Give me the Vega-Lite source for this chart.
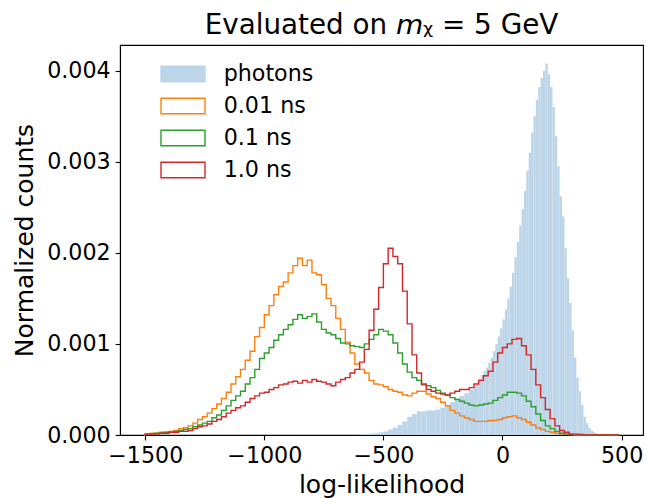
{
  "$schema": "https://vega.github.io/schema/vega-lite/v6.json",
  "autosize": "none",
  "width": 523,
  "height": 390,
  "padding": {"left": 120, "top": 45, "right": 3, "bottom": 63},
  "background": "white",
  "title": {
    "text": "Evaluated on 𝘮ᵪ = 5 GeV",
    "font": "DejaVu Sans",
    "fontSize": 27.8,
    "fontWeight": "normal",
    "color": "black",
    "anchor": "middle",
    "frame": "group",
    "baseline": "alphabetic",
    "offset": -17
  },
  "config": {
    "view": {"stroke": "black", "strokeWidth": 1.1},
    "axis": {
      "grid": false,
      "domainColor": "black",
      "domainWidth": 1.1,
      "tickColor": "black",
      "tickWidth": 1.1,
      "tickSize": 4.9,
      "labelFont": "DejaVu Sans",
      "labelFontSize": 22.2,
      "labelColor": "black",
      "labelPadding": 4.9,
      "titleFont": "DejaVu Sans",
      "titleFontSize": 25,
      "titleFontWeight": "normal",
      "titleColor": "black"
    },
    "legend": {
      "orient": "none",
      "padding": 0,
      "rowPadding": 0,
      "clipHeight": 32,
      "symbolType": "M-1,-0.35L1,-0.35L1,0.35L-1,0.35Z",
      "symbolSize": 1936,
      "symbolStrokeWidth": 1.4,
      "labelFont": "DejaVu Sans",
      "labelFontSize": 22.2,
      "labelColor": "black",
      "labelOffset": 17.7
    }
  },
  "datasets": {
    "photons": [
      {"lo": -620, "hi": -600, "y": 0.000005},
      {"lo": -600, "hi": -580, "y": 0.00001},
      {"lo": -580, "hi": -560, "y": 0.00001},
      {"lo": -560, "hi": -540, "y": 0.000015},
      {"lo": -540, "hi": -520, "y": 0.00002},
      {"lo": -520, "hi": -500, "y": 0.00003},
      {"lo": -500, "hi": -480, "y": 0.00004},
      {"lo": -480, "hi": -460, "y": 0.00006},
      {"lo": -460, "hi": -440, "y": 0.00008},
      {"lo": -440, "hi": -420, "y": 0.00011},
      {"lo": -420, "hi": -400, "y": 0.00015},
      {"lo": -400, "hi": -380, "y": 0.0002},
      {"lo": -380, "hi": -360, "y": 0.00023},
      {"lo": -360, "hi": -340, "y": 0.00026},
      {"lo": -340, "hi": -320, "y": 0.00026},
      {"lo": -320, "hi": -300, "y": 0.00027},
      {"lo": -300, "hi": -280, "y": 0.00027},
      {"lo": -280, "hi": -260, "y": 0.00028},
      {"lo": -260, "hi": -240, "y": 0.0003},
      {"lo": -240, "hi": -220, "y": 0.00033},
      {"lo": -220, "hi": -200, "y": 0.00036},
      {"lo": -200, "hi": -180, "y": 0.0004},
      {"lo": -180, "hi": -160, "y": 0.00043},
      {"lo": -160, "hi": -140, "y": 0.00046},
      {"lo": -140, "hi": -120, "y": 0.0005},
      {"lo": -120, "hi": -100, "y": 0.00055},
      {"lo": -100, "hi": -90, "y": 0.00062},
      {"lo": -90, "hi": -80, "y": 0.00066},
      {"lo": -80, "hi": -70, "y": 0.0007},
      {"lo": -70, "hi": -60, "y": 0.00074},
      {"lo": -60, "hi": -50, "y": 0.00079},
      {"lo": -50, "hi": -40, "y": 0.00085},
      {"lo": -40, "hi": -30, "y": 0.00092},
      {"lo": -30, "hi": -20, "y": 0.001},
      {"lo": -20, "hi": -10, "y": 0.00108},
      {"lo": -10, "hi": 0, "y": 0.00117},
      {"lo": 0, "hi": 10, "y": 0.00127},
      {"lo": 10, "hi": 20, "y": 0.00138},
      {"lo": 20, "hi": 30, "y": 0.0015},
      {"lo": 30, "hi": 40, "y": 0.00163},
      {"lo": 40, "hi": 50, "y": 0.00178},
      {"lo": 50, "hi": 60, "y": 0.00195},
      {"lo": 60, "hi": 70, "y": 0.00212},
      {"lo": 70, "hi": 80, "y": 0.0023},
      {"lo": 80, "hi": 90, "y": 0.00248},
      {"lo": 90, "hi": 100, "y": 0.00268},
      {"lo": 100, "hi": 110, "y": 0.0029},
      {"lo": 110, "hi": 120, "y": 0.0031},
      {"lo": 120, "hi": 130, "y": 0.00332},
      {"lo": 130, "hi": 140, "y": 0.0035},
      {"lo": 140, "hi": 150, "y": 0.00368},
      {"lo": 150, "hi": 160, "y": 0.00382},
      {"lo": 160, "hi": 170, "y": 0.00392},
      {"lo": 170, "hi": 180, "y": 0.004},
      {"lo": 180, "hi": 190, "y": 0.00408},
      {"lo": 190, "hi": 200, "y": 0.00396},
      {"lo": 200, "hi": 210, "y": 0.00382},
      {"lo": 210, "hi": 220, "y": 0.0036},
      {"lo": 220, "hi": 230, "y": 0.00328},
      {"lo": 230, "hi": 240, "y": 0.00295},
      {"lo": 240, "hi": 250, "y": 0.00262},
      {"lo": 250, "hi": 260, "y": 0.0024},
      {"lo": 260, "hi": 270, "y": 0.00205},
      {"lo": 270, "hi": 280, "y": 0.00172},
      {"lo": 280, "hi": 290, "y": 0.00145},
      {"lo": 290, "hi": 300, "y": 0.00115},
      {"lo": 300, "hi": 310, "y": 0.00085},
      {"lo": 310, "hi": 320, "y": 0.00063},
      {"lo": 320, "hi": 330, "y": 0.00048},
      {"lo": 330, "hi": 340, "y": 0.00033},
      {"lo": 340, "hi": 350, "y": 0.0002},
      {"lo": 350, "hi": 360, "y": 0.00013},
      {"lo": 360, "hi": 370, "y": 0.00008},
      {"lo": 370, "hi": 380, "y": 0.00005},
      {"lo": 380, "hi": 390, "y": 0.00003},
      {"lo": 390, "hi": 400, "y": 0.00002},
      {"lo": 400, "hi": 410, "y": 0.00001}
    ],
    "lines": [
      {"series": "0.01 ns", "x": -1506, "y": 0},
      {"series": "0.01 ns", "x": -1500, "y": 0.00001},
      {"series": "0.01 ns", "x": -1480, "y": 0.00002},
      {"series": "0.01 ns", "x": -1460, "y": 0.00002},
      {"series": "0.01 ns", "x": -1440, "y": 0.00003},
      {"series": "0.01 ns", "x": -1420, "y": 0.00003},
      {"series": "0.01 ns", "x": -1400, "y": 0.00004},
      {"series": "0.01 ns", "x": -1380, "y": 0.00005},
      {"series": "0.01 ns", "x": -1360, "y": 0.00007},
      {"series": "0.01 ns", "x": -1340, "y": 0.00008},
      {"series": "0.01 ns", "x": -1320, "y": 0.0001},
      {"series": "0.01 ns", "x": -1300, "y": 0.00013},
      {"series": "0.01 ns", "x": -1280, "y": 0.00017},
      {"series": "0.01 ns", "x": -1260, "y": 0.0002},
      {"series": "0.01 ns", "x": -1240, "y": 0.00024},
      {"series": "0.01 ns", "x": -1220, "y": 0.00029},
      {"series": "0.01 ns", "x": -1200, "y": 0.00034},
      {"series": "0.01 ns", "x": -1180, "y": 0.0004},
      {"series": "0.01 ns", "x": -1160, "y": 0.00047},
      {"series": "0.01 ns", "x": -1140, "y": 0.00056},
      {"series": "0.01 ns", "x": -1120, "y": 0.00064},
      {"series": "0.01 ns", "x": -1100, "y": 0.00072},
      {"series": "0.01 ns", "x": -1080, "y": 0.00082},
      {"series": "0.01 ns", "x": -1060, "y": 0.00092},
      {"series": "0.01 ns", "x": -1040, "y": 0.00108},
      {"series": "0.01 ns", "x": -1020, "y": 0.00118},
      {"series": "0.01 ns", "x": -1000, "y": 0.00132},
      {"series": "0.01 ns", "x": -980, "y": 0.00142},
      {"series": "0.01 ns", "x": -960, "y": 0.00154},
      {"series": "0.01 ns", "x": -940, "y": 0.00163},
      {"series": "0.01 ns", "x": -920, "y": 0.00168},
      {"series": "0.01 ns", "x": -900, "y": 0.00178},
      {"series": "0.01 ns", "x": -880, "y": 0.00186},
      {"series": "0.01 ns", "x": -860, "y": 0.00194},
      {"series": "0.01 ns", "x": -840, "y": 0.00186},
      {"series": "0.01 ns", "x": -820, "y": 0.00192},
      {"series": "0.01 ns", "x": -800, "y": 0.00178},
      {"series": "0.01 ns", "x": -780, "y": 0.00176},
      {"series": "0.01 ns", "x": -760, "y": 0.00165},
      {"series": "0.01 ns", "x": -740, "y": 0.0015},
      {"series": "0.01 ns", "x": -720, "y": 0.00142},
      {"series": "0.01 ns", "x": -700, "y": 0.00128},
      {"series": "0.01 ns", "x": -680, "y": 0.00116},
      {"series": "0.01 ns", "x": -660, "y": 0.00102},
      {"series": "0.01 ns", "x": -640, "y": 0.0009},
      {"series": "0.01 ns", "x": -620, "y": 0.00078},
      {"series": "0.01 ns", "x": -600, "y": 0.00072},
      {"series": "0.01 ns", "x": -580, "y": 0.00068},
      {"series": "0.01 ns", "x": -560, "y": 0.0006},
      {"series": "0.01 ns", "x": -540, "y": 0.00056},
      {"series": "0.01 ns", "x": -520, "y": 0.00055},
      {"series": "0.01 ns", "x": -500, "y": 0.00053},
      {"series": "0.01 ns", "x": -480, "y": 0.0005},
      {"series": "0.01 ns", "x": -460, "y": 0.00048},
      {"series": "0.01 ns", "x": -440, "y": 0.00047},
      {"series": "0.01 ns", "x": -420, "y": 0.00044},
      {"series": "0.01 ns", "x": -400, "y": 0.00043},
      {"series": "0.01 ns", "x": -380, "y": 0.00046},
      {"series": "0.01 ns", "x": -360, "y": 0.00048},
      {"series": "0.01 ns", "x": -340, "y": 0.00048},
      {"series": "0.01 ns", "x": -320, "y": 0.00045},
      {"series": "0.01 ns", "x": -300, "y": 0.00042},
      {"series": "0.01 ns", "x": -280, "y": 0.0004},
      {"series": "0.01 ns", "x": -260, "y": 0.00036},
      {"series": "0.01 ns", "x": -240, "y": 0.00032},
      {"series": "0.01 ns", "x": -220, "y": 0.00027},
      {"series": "0.01 ns", "x": -200, "y": 0.00024},
      {"series": "0.01 ns", "x": -180, "y": 0.00021},
      {"series": "0.01 ns", "x": -160, "y": 0.00019},
      {"series": "0.01 ns", "x": -140, "y": 0.00017},
      {"series": "0.01 ns", "x": -120, "y": 0.00015},
      {"series": "0.01 ns", "x": -100, "y": 0.00015},
      {"series": "0.01 ns", "x": -80, "y": 0.00015},
      {"series": "0.01 ns", "x": -60, "y": 0.00016},
      {"series": "0.01 ns", "x": -40, "y": 0.00016},
      {"series": "0.01 ns", "x": -20, "y": 0.00017},
      {"series": "0.01 ns", "x": 0, "y": 0.00019},
      {"series": "0.01 ns", "x": 20, "y": 0.0002},
      {"series": "0.01 ns", "x": 40, "y": 0.00021},
      {"series": "0.01 ns", "x": 60, "y": 0.00019},
      {"series": "0.01 ns", "x": 80, "y": 0.00017},
      {"series": "0.01 ns", "x": 100, "y": 0.00014},
      {"series": "0.01 ns", "x": 120, "y": 0.00011},
      {"series": "0.01 ns", "x": 140, "y": 0.00008},
      {"series": "0.01 ns", "x": 160, "y": 0.00006},
      {"series": "0.01 ns", "x": 180, "y": 0.00004},
      {"series": "0.01 ns", "x": 200, "y": 0.00003},
      {"series": "0.01 ns", "x": 220, "y": 0.00002},
      {"series": "0.01 ns", "x": 240, "y": 0.00001},
      {"series": "0.01 ns", "x": 260, "y": 0.00001},
      {"series": "0.01 ns", "x": 280, "y": 0.000005},
      {"series": "0.01 ns", "x": 300, "y": 0},
      {"series": "0.01 ns", "x": 490, "y": 0},

      {"series": "0.1 ns", "x": -1506, "y": 0},
      {"series": "0.1 ns", "x": -1500, "y": 0.00001},
      {"series": "0.1 ns", "x": -1480, "y": 0.00001},
      {"series": "0.1 ns", "x": -1460, "y": 0.00002},
      {"series": "0.1 ns", "x": -1440, "y": 0.00002},
      {"series": "0.1 ns", "x": -1420, "y": 0.00003},
      {"series": "0.1 ns", "x": -1400, "y": 0.00003},
      {"series": "0.1 ns", "x": -1380, "y": 0.00004},
      {"series": "0.1 ns", "x": -1360, "y": 0.00005},
      {"series": "0.1 ns", "x": -1340, "y": 0.00006},
      {"series": "0.1 ns", "x": -1320, "y": 0.00007},
      {"series": "0.1 ns", "x": -1300, "y": 0.00009},
      {"series": "0.1 ns", "x": -1280, "y": 0.00011},
      {"series": "0.1 ns", "x": -1260, "y": 0.00013},
      {"series": "0.1 ns", "x": -1240, "y": 0.00015},
      {"series": "0.1 ns", "x": -1220, "y": 0.00019},
      {"series": "0.1 ns", "x": -1200, "y": 0.00022},
      {"series": "0.1 ns", "x": -1180, "y": 0.00027},
      {"series": "0.1 ns", "x": -1160, "y": 0.00032},
      {"series": "0.1 ns", "x": -1140, "y": 0.00038},
      {"series": "0.1 ns", "x": -1120, "y": 0.00043},
      {"series": "0.1 ns", "x": -1100, "y": 0.00048},
      {"series": "0.1 ns", "x": -1080, "y": 0.00056},
      {"series": "0.1 ns", "x": -1060, "y": 0.00063},
      {"series": "0.1 ns", "x": -1040, "y": 0.00072},
      {"series": "0.1 ns", "x": -1020, "y": 0.00084},
      {"series": "0.1 ns", "x": -1000, "y": 0.0009},
      {"series": "0.1 ns", "x": -980, "y": 0.00096},
      {"series": "0.1 ns", "x": -960, "y": 0.00104},
      {"series": "0.1 ns", "x": -940, "y": 0.0011},
      {"series": "0.1 ns", "x": -920, "y": 0.00116},
      {"series": "0.1 ns", "x": -900, "y": 0.00121},
      {"series": "0.1 ns", "x": -880, "y": 0.00127},
      {"series": "0.1 ns", "x": -860, "y": 0.00132},
      {"series": "0.1 ns", "x": -840, "y": 0.00128},
      {"series": "0.1 ns", "x": -820, "y": 0.0013},
      {"series": "0.1 ns", "x": -800, "y": 0.00133},
      {"series": "0.1 ns", "x": -780, "y": 0.00124},
      {"series": "0.1 ns", "x": -760, "y": 0.00116},
      {"series": "0.1 ns", "x": -740, "y": 0.00112},
      {"series": "0.1 ns", "x": -720, "y": 0.0011},
      {"series": "0.1 ns", "x": -700, "y": 0.00106},
      {"series": "0.1 ns", "x": -680, "y": 0.00101},
      {"series": "0.1 ns", "x": -660, "y": 0.001},
      {"series": "0.1 ns", "x": -640, "y": 0.00098},
      {"series": "0.1 ns", "x": -620, "y": 0.00097},
      {"series": "0.1 ns", "x": -600, "y": 0.00096},
      {"series": "0.1 ns", "x": -580, "y": 0.001},
      {"series": "0.1 ns", "x": -560, "y": 0.00105},
      {"series": "0.1 ns", "x": -540, "y": 0.0011},
      {"series": "0.1 ns", "x": -520, "y": 0.00116},
      {"series": "0.1 ns", "x": -500, "y": 0.00114},
      {"series": "0.1 ns", "x": -480, "y": 0.0011},
      {"series": "0.1 ns", "x": -460, "y": 0.00101},
      {"series": "0.1 ns", "x": -440, "y": 0.0009},
      {"series": "0.1 ns", "x": -420, "y": 0.00078},
      {"series": "0.1 ns", "x": -400, "y": 0.00069},
      {"series": "0.1 ns", "x": -380, "y": 0.00063},
      {"series": "0.1 ns", "x": -360, "y": 0.0006},
      {"series": "0.1 ns", "x": -340, "y": 0.00055},
      {"series": "0.1 ns", "x": -320, "y": 0.00054},
      {"series": "0.1 ns", "x": -300, "y": 0.00052},
      {"series": "0.1 ns", "x": -280, "y": 0.00049},
      {"series": "0.1 ns", "x": -260, "y": 0.00046},
      {"series": "0.1 ns", "x": -240, "y": 0.00044},
      {"series": "0.1 ns", "x": -220, "y": 0.00041},
      {"series": "0.1 ns", "x": -200, "y": 0.00039},
      {"series": "0.1 ns", "x": -180, "y": 0.00037},
      {"series": "0.1 ns", "x": -160, "y": 0.00035},
      {"series": "0.1 ns", "x": -140, "y": 0.00033},
      {"series": "0.1 ns", "x": -120, "y": 0.00032},
      {"series": "0.1 ns", "x": -100, "y": 0.00033},
      {"series": "0.1 ns", "x": -80, "y": 0.00034},
      {"series": "0.1 ns", "x": -60, "y": 0.00035},
      {"series": "0.1 ns", "x": -40, "y": 0.00038},
      {"series": "0.1 ns", "x": -20, "y": 0.00041},
      {"series": "0.1 ns", "x": 0, "y": 0.00044},
      {"series": "0.1 ns", "x": 20, "y": 0.00047},
      {"series": "0.1 ns", "x": 40, "y": 0.00047},
      {"series": "0.1 ns", "x": 60, "y": 0.00046},
      {"series": "0.1 ns", "x": 80, "y": 0.00043},
      {"series": "0.1 ns", "x": 100, "y": 0.00037},
      {"series": "0.1 ns", "x": 120, "y": 0.00031},
      {"series": "0.1 ns", "x": 140, "y": 0.00023},
      {"series": "0.1 ns", "x": 160, "y": 0.00016},
      {"series": "0.1 ns", "x": 180, "y": 0.0001},
      {"series": "0.1 ns", "x": 200, "y": 0.00007},
      {"series": "0.1 ns", "x": 220, "y": 0.00004},
      {"series": "0.1 ns", "x": 240, "y": 0.00002},
      {"series": "0.1 ns", "x": 260, "y": 0.00001},
      {"series": "0.1 ns", "x": 280, "y": 0.000005},
      {"series": "0.1 ns", "x": 300, "y": 0},
      {"series": "0.1 ns", "x": 490, "y": 0},

      {"series": "1.0 ns", "x": -1506, "y": 0},
      {"series": "1.0 ns", "x": -1500, "y": 0.00001},
      {"series": "1.0 ns", "x": -1480, "y": 0.00001},
      {"series": "1.0 ns", "x": -1460, "y": 0.00001},
      {"series": "1.0 ns", "x": -1440, "y": 0.00002},
      {"series": "1.0 ns", "x": -1420, "y": 0.00002},
      {"series": "1.0 ns", "x": -1400, "y": 0.00003},
      {"series": "1.0 ns", "x": -1380, "y": 0.00003},
      {"series": "1.0 ns", "x": -1360, "y": 0.00004},
      {"series": "1.0 ns", "x": -1340, "y": 0.00004},
      {"series": "1.0 ns", "x": -1320, "y": 0.00005},
      {"series": "1.0 ns", "x": -1300, "y": 0.00007},
      {"series": "1.0 ns", "x": -1280, "y": 0.00009},
      {"series": "1.0 ns", "x": -1260, "y": 0.0001},
      {"series": "1.0 ns", "x": -1240, "y": 0.00012},
      {"series": "1.0 ns", "x": -1220, "y": 0.00015},
      {"series": "1.0 ns", "x": -1200, "y": 0.00017},
      {"series": "1.0 ns", "x": -1180, "y": 0.0002},
      {"series": "1.0 ns", "x": -1160, "y": 0.00024},
      {"series": "1.0 ns", "x": -1140, "y": 0.00027},
      {"series": "1.0 ns", "x": -1120, "y": 0.0003},
      {"series": "1.0 ns", "x": -1100, "y": 0.00032},
      {"series": "1.0 ns", "x": -1080, "y": 0.00036},
      {"series": "1.0 ns", "x": -1060, "y": 0.0004},
      {"series": "1.0 ns", "x": -1040, "y": 0.00043},
      {"series": "1.0 ns", "x": -1020, "y": 0.00046},
      {"series": "1.0 ns", "x": -1000, "y": 0.00047},
      {"series": "1.0 ns", "x": -980, "y": 0.0005},
      {"series": "1.0 ns", "x": -960, "y": 0.00052},
      {"series": "1.0 ns", "x": -940, "y": 0.00055},
      {"series": "1.0 ns", "x": -920, "y": 0.00056},
      {"series": "1.0 ns", "x": -900, "y": 0.00058},
      {"series": "1.0 ns", "x": -880, "y": 0.00059},
      {"series": "1.0 ns", "x": -860, "y": 0.00057},
      {"series": "1.0 ns", "x": -840, "y": 0.0006},
      {"series": "1.0 ns", "x": -820, "y": 0.00058},
      {"series": "1.0 ns", "x": -800, "y": 0.00061},
      {"series": "1.0 ns", "x": -780, "y": 0.00059},
      {"series": "1.0 ns", "x": -760, "y": 0.00058},
      {"series": "1.0 ns", "x": -740, "y": 0.00056},
      {"series": "1.0 ns", "x": -720, "y": 0.00054},
      {"series": "1.0 ns", "x": -700, "y": 0.00058},
      {"series": "1.0 ns", "x": -680, "y": 0.00061},
      {"series": "1.0 ns", "x": -660, "y": 0.00063},
      {"series": "1.0 ns", "x": -640, "y": 0.00068},
      {"series": "1.0 ns", "x": -620, "y": 0.00072},
      {"series": "1.0 ns", "x": -600, "y": 0.0008},
      {"series": "1.0 ns", "x": -580, "y": 0.00094},
      {"series": "1.0 ns", "x": -560, "y": 0.00115},
      {"series": "1.0 ns", "x": -540, "y": 0.00138},
      {"series": "1.0 ns", "x": -520, "y": 0.00162},
      {"series": "1.0 ns", "x": -500, "y": 0.00188},
      {"series": "1.0 ns", "x": -480, "y": 0.00205},
      {"series": "1.0 ns", "x": -460, "y": 0.00196},
      {"series": "1.0 ns", "x": -440, "y": 0.00188},
      {"series": "1.0 ns", "x": -420, "y": 0.00158},
      {"series": "1.0 ns", "x": -400, "y": 0.00122},
      {"series": "1.0 ns", "x": -380, "y": 0.00088},
      {"series": "1.0 ns", "x": -360, "y": 0.00068},
      {"series": "1.0 ns", "x": -340, "y": 0.00056},
      {"series": "1.0 ns", "x": -320, "y": 0.0005},
      {"series": "1.0 ns", "x": -300, "y": 0.00048},
      {"series": "1.0 ns", "x": -280, "y": 0.00046},
      {"series": "1.0 ns", "x": -260, "y": 0.00045},
      {"series": "1.0 ns", "x": -240, "y": 0.00044},
      {"series": "1.0 ns", "x": -220, "y": 0.00046},
      {"series": "1.0 ns", "x": -200, "y": 0.00048},
      {"series": "1.0 ns", "x": -180, "y": 0.0005},
      {"series": "1.0 ns", "x": -160, "y": 0.0005},
      {"series": "1.0 ns", "x": -140, "y": 0.00052},
      {"series": "1.0 ns", "x": -120, "y": 0.00056},
      {"series": "1.0 ns", "x": -100, "y": 0.0006},
      {"series": "1.0 ns", "x": -80, "y": 0.00065},
      {"series": "1.0 ns", "x": -60, "y": 0.0007},
      {"series": "1.0 ns", "x": -40, "y": 0.0008},
      {"series": "1.0 ns", "x": -20, "y": 0.0009},
      {"series": "1.0 ns", "x": 0, "y": 0.00096},
      {"series": "1.0 ns", "x": 20, "y": 0.001},
      {"series": "1.0 ns", "x": 40, "y": 0.00105},
      {"series": "1.0 ns", "x": 60, "y": 0.00106},
      {"series": "1.0 ns", "x": 80, "y": 0.00098},
      {"series": "1.0 ns", "x": 100, "y": 0.00088},
      {"series": "1.0 ns", "x": 120, "y": 0.00072},
      {"series": "1.0 ns", "x": 140, "y": 0.00055},
      {"series": "1.0 ns", "x": 160, "y": 0.00041},
      {"series": "1.0 ns", "x": 180, "y": 0.00028},
      {"series": "1.0 ns", "x": 200, "y": 0.00018},
      {"series": "1.0 ns", "x": 220, "y": 0.0001},
      {"series": "1.0 ns", "x": 240, "y": 0.00005},
      {"series": "1.0 ns", "x": 260, "y": 0.00003},
      {"series": "1.0 ns", "x": 280, "y": 0.00001},
      {"series": "1.0 ns", "x": 300, "y": 0.00001},
      {"series": "1.0 ns", "x": 320, "y": 0.000005},
      {"series": "1.0 ns", "x": 340, "y": 0},
      {"series": "1.0 ns", "x": 490, "y": 0}
    ]
  },
  "layer": [
    {
      "data": {"name": "photons"},
      "mark": {"type": "rect", "stroke": null},
      "encoding": {
        "x": {
          "field": "lo",
          "type": "quantitative",
          "scale": {"domain": [-1606, 590], "nice": false, "zero": false},
          "axis": {
            "title": "log-likelihood",
            "values": [-1500, -1000, -500, 0, 500],
            "format": "d",
            "labelExpr": "replace(datum.label, '-', '−')",
            "titlePadding": 5
          }
        },
        "x2": {"field": "hi"},
        "y": {
          "field": "y",
          "type": "quantitative",
          "scale": {"domain": [0, 0.004282], "nice": false},
          "axis": {
            "title": "Normalized counts",
            "values": [0, 0.001, 0.002, 0.003, 0.004],
            "format": ".3f",
            "titlePadding": 9
          }
        },
        "y2": {"datum": 0},
        "fill": {
          "datum": "photons",
          "type": "nominal",
          "scale": {"domain": ["photons"], "range": ["#bdd5e8"]},
          "legend": {
            "title": null,
            "legendX": 40,
            "legendY": 13,
            "symbolStrokeColor": "#bdd5e8"
          }
        }
      }
    },
    {
      "data": {"name": "lines"},
      "mark": {"type": "line", "interpolate": "step-after", "strokeWidth": 1.4},
      "encoding": {
        "x": {"field": "x", "type": "quantitative"},
        "y": {"field": "y", "type": "quantitative"},
        "stroke": {
          "field": "series",
          "type": "nominal",
          "scale": {
            "domain": ["0.01 ns", "0.1 ns", "1.0 ns"],
            "range": ["#ff7f0e", "#2ca02c", "#d62728"]
          },
          "legend": {
            "title": null,
            "legendX": 40,
            "legendY": 45,
            "symbolFillColor": "white",
            "encode": {"symbols": {"update": {"fill": {"value": "white"}, "opacity": {"value": 1}}}}
          }
        }
      }
    }
  ]
}
